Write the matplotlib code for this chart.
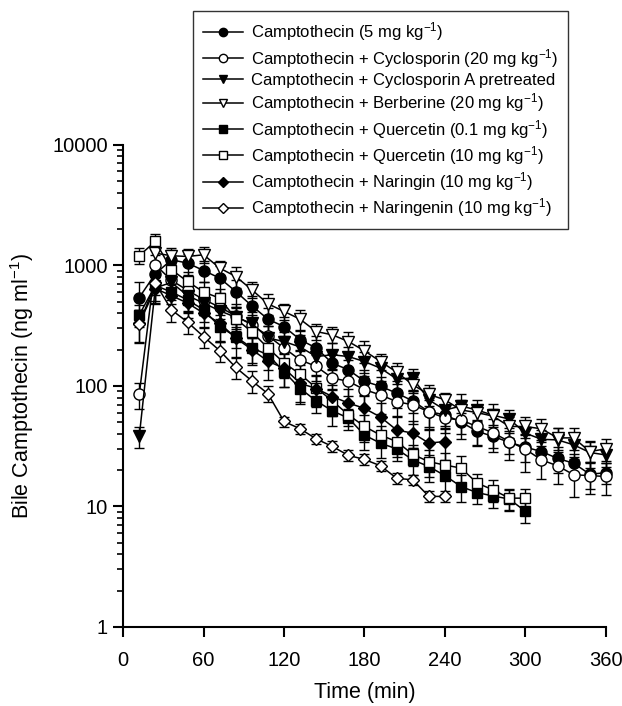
import numpy as np
import matplotlib
matplotlib.use("Agg")
import matplotlib.pyplot as plt
from matplotlib.ticker import FixedLocator, LogLocator, NullFormatter

plt.rcParams['font.family'] = ['Liberation Sans', 'DejaVu Sans']
plt.rcParams['mathtext.default'] = 'regular'

nan = np.nan
time = np.arange(12, 361, 12)

labels = [
    'Camptothecin (5 mg kg$^{-1}$)',
    'Camptothecin + Cyclosporin (20 mg kg$^{-1}$)',
    'Camptothecin + Cyclosporin A pretreated',
    'Camptothecin + Berberine (20 mg kg$^{-1}$)',
    'Camptothecin + Quercetin (0.1 mg kg$^{-1}$)',
    'Camptothecin + Quercetin (10 mg kg$^{-1}$)',
    'Camptothecin + Naringin (10 mg kg$^{-1}$)',
    'Camptothecin + Naringenin (10 mg kg$^{-1}$)',
]

cpt = [540, 850, 1110, 1043, 905, 783, 606, 461, 357, 310, 241, 206, 154, 136, 109,
       99, 87, 75, 61, 57.5, 50, 42, 38, 34, 31, 28.5, 25, 22.8, 18.5, 19]
cyclo = [85, 1010, 750, 620, 520, 450, 380, 320, 260, 206, 164, 145, 116, 109, 93,
         84, 74, 69.5, 61, 54, 52, 46, 40.7, 34.5, 29.8, 24.3, 21.7, 18.3, 18, 17.7]
csa = [38, 650, 720, 560, 486, 420, 370, 330, 249, 233, 210, 175, 181, 175, 159,
       140, 114, 116, 76.5, 63, 68, 63, 57, 53, 40.5, 36, 35.6, 32.4, 28, 26.7]
berb = [nan, 1260, 1200, 1183, 1222, 948, 807, 626, 479, 414, 357, 282, 265, 233, 195,
        159, 130, 102, 85, 76.5, 63, 60, 56, 46, 46, 44, 37, 37, 28.5, 30]
q_low = [388, 680, 600, 517, 427, 310, 256, 206, 181, 131, 95, 75, 62, 54, 39,
         33.4, 30, 24.3, 21.4, 18, 14.6, 13, 12.2, 11.5, 9.1]
q_high = [1200, 1580, 918, 734, 600, 534, 360, 280, 206, 155, 125, 96, 75, 57.5, 46,
          39, 34.5, 27, 23.5, 22, 20.8, 15.6, 13.7, 11.7, 11.7]
naringin = [330, 640, 560, 486, 401, 331, 249, 200, 160, 140, 105, 95, 81.5, 72, 65,
            55, 43, 40.5, 33.5, 34.5]
naringenin = [325, 711, 427, 338, 256, 196, 142, 110, 86, 50.6, 44, 36.3, 31.4, 26.5, 24.5,
              21.7, 17.1, 16.6, 12.1, 12.1]

# relative SEM
cpt_err = [0.35, 0.25, 0.2, 0.2, 0.2, 0.25, 0.25, 0.2, 0.25, 0.2, 0.2, 0.25, 0.2, 0.2, 0.25,
           0.2, 0.25, 0.2, 0.25, 0.2, 0.2, 0.25, 0.2, 0.2, 0.25, 0.2, 0.25, 0.2, 0.25, 0.2]
cyclo_err = [0.25, 0.2, 0.2, 0.2, 0.25, 0.2, 0.25, 0.2, 0.2, 0.25, 0.2, 0.25, 0.2, 0.25, 0.3,
             0.3, 0.25, 0.3, 0.3, 0.25, 0.3, 0.3, 0.3, 0.3, 0.35, 0.3, 0.3, 0.35, 0.3, 0.3]
csa_err = [0.2, 0.25, 0.2, 0.25, 0.2, 0.2, 0.2, 0.25, 0.25, 0.2, 0.25, 0.2, 0.25, 0.2, 0.2,
           0.25, 0.25, 0.2, 0.25, 0.3, 0.25, 0.2, 0.25, 0.2, 0.25, 0.2, 0.25, 0.2, 0.25, 0.2]
berb_err = [nan, 0.15, 0.15, 0.15, 0.15, 0.15, 0.2, 0.15, 0.2, 0.15, 0.2, 0.15, 0.15, 0.2, 0.2,
            0.15, 0.2, 0.15, 0.2, 0.15, 0.2, 0.15, 0.15, 0.2, 0.2, 0.2, 0.2, 0.2, 0.2, 0.2]
q_low_err = [0.2, 0.25, 0.2, 0.2, 0.2, 0.25, 0.2, 0.25, 0.25, 0.25, 0.25, 0.2, 0.25, 0.2, 0.25,
             0.25, 0.2, 0.25, 0.25, 0.3, 0.25, 0.2, 0.2, 0.2, 0.2]
q_high_err = [0.15, 0.15, 0.2, 0.2, 0.2, 0.2, 0.25, 0.25, 0.2, 0.25, 0.2, 0.25, 0.25, 0.2, 0.25,
              0.2, 0.25, 0.2, 0.25, 0.25, 0.25, 0.2, 0.2, 0.2, 0.2]
naringin_err = [0.3, 0.25, 0.25, 0.25, 0.25, 0.3, 0.3, 0.25, 0.3, 0.3, 0.3, 0.3, 0.25, 0.3, 0.3,
                0.3, 0.3, 0.25, 0.3, 0.3]
naringenin_err = [0.3, 0.2, 0.2, 0.2, 0.2, 0.2, 0.2, 0.2, 0.15, 0.1, 0.1, 0.1, 0.1, 0.1, 0.1,
                  0.1, 0.1, 0.1, 0.1, 0.1]

series = [cpt, cyclo, csa, berb, q_low, q_high, naringin, naringenin]
errors = [cpt_err, cyclo_err, csa_err, berb_err, q_low_err, q_high_err, naringin_err, naringenin_err]
markers = ['o', 'o', 'v', 'v', 's', 's', 'D', 'D']
filled = [True, False, True, False, True, False, True, False]
msizes = [8, 8, 8.5, 8.5, 7, 7, 6.5, 6.5]

fig = plt.figure(figsize=(6.22, 7.06), dpi=100)
ax = fig.add_axes([0.198, 0.112, 0.776, 0.683])

handles = []
for vals, rel, m, f, ms in zip(series, errors, markers, filled, msizes):
    vals = np.array(vals, dtype=float)
    t = time[:len(vals)]
    err = vals * np.array(rel, dtype=float)
    c = ax.errorbar(t, vals, yerr=err, fmt='-', marker=m, color='black',
                    mfc='black' if f else 'white', mec='black', ms=ms, lw=1.1,
                    ecolor='black', elinewidth=1, capsize=3.5, capthick=1, clip_on=False)
    handles.append(c[0])

ax.set_yscale('log')
ax.set_ylim(1, 10000)
ax.set_xlim(0, 360)
ax.xaxis.set_major_locator(FixedLocator([0, 60, 120, 180, 240, 300, 360]))
ax.yaxis.set_major_locator(FixedLocator([1, 10, 100, 1000, 10000]))
ax.yaxis.set_minor_locator(LogLocator(base=10, subs=np.arange(2, 10)))
ax.yaxis.set_minor_formatter(NullFormatter())
ax.set_yticklabels(['1', '10', '100', '1000', '10000'])

for s in ['top', 'right']:
    ax.spines[s].set_visible(False)
for s in ['left', 'bottom']:
    ax.spines[s].set_linewidth(1.5)
ax.tick_params(axis='both', which='major', direction='out', length=7, width=1.5, labelsize=14.5)
ax.tick_params(axis='y', which='minor', direction='out', length=4, width=1.2)
ax.tick_params(axis='y', pad=4)
ax.tick_params(axis='x', pad=10)

ax.set_xlabel('Time (min)', fontsize=15.5, labelpad=9)
ax.set_ylabel('Bile Camptothecin (ng ml$^{-1}$)', fontsize=15.5, labelpad=12)

leg = fig.legend(handles, labels, loc='upper left', bbox_to_anchor=(0.31, 0.985),
                 fontsize=12, frameon=True, fancybox=False, edgecolor='black',
                 handlelength=2.4, labelspacing=0.2, borderpad=0.6, handletextpad=0.5,
                 markerscale=0.75, borderaxespad=0)
leg.get_frame().set_linewidth(1.0)

fig.savefig('out.png', dpi=100)
